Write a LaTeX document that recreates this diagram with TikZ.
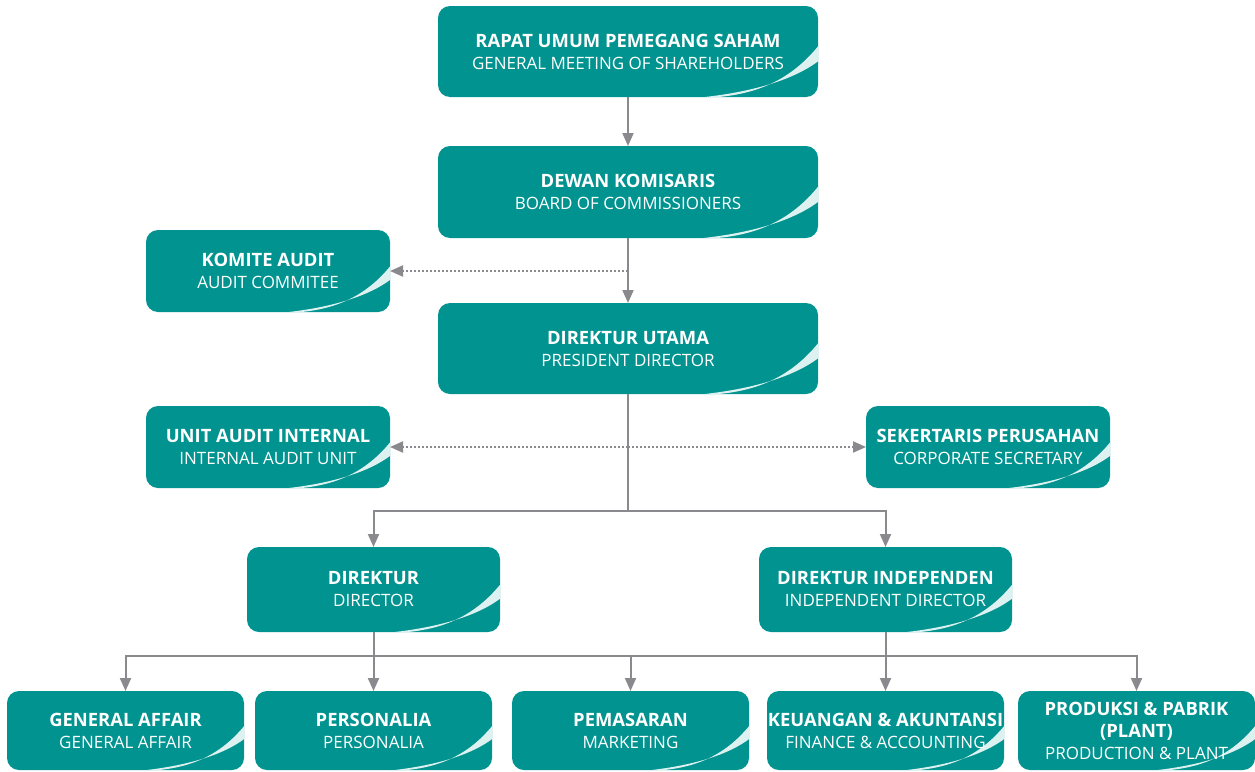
\documentclass[tikz,border=0pt]{standalone}
\usepackage{fontspec}
\setmainfont{Open Sans}
\usetikzlibrary{arrows.meta,calc}
\definecolor{teal1}{HTML}{00938F}
\definecolor{swl}{HTML}{DDF2F0}
\definecolor{conn}{HTML}{8A8A8E}
\newcommand\bl[1]{{\fontsize{18.4}{22}\selectfont\bfseries #1}}
\tikzset{
  lbl/.style={text=white, align=center, inner sep=0pt, outer sep=0pt, font=\fontsize{17}{22}\selectfont},
  line/.style={draw=conn, line width=2pt},
  arr/.style={line, -{Triangle[width=11pt,length=13pt]}},
  dotarr/.style={draw=conn, line width=2pt, dash pattern=on 1.6pt off 2.4pt, -{Triangle[width=11pt,length=13pt]}},
}
% name, x1, y1, x2, y2, text
\newcommand\obox[6]{%
  \pgfmathsetmacro\bh{#5-#3}%
  \pgfmathsetmacro\bw{#4-#2}%
  \pgfmathsetmacro\cx{(#2+#4)/2}%
  \pgfmathsetmacro\cy{(#3+#5)/2}%
  \fill[teal1, rounded corners=12pt] (#2,#3) rectangle (#4,#5);
  \begin{scope}
    \clip[rounded corners=12pt] (#2,#3) rectangle (#4,#5);
    \fill[swl] (#4+1,#3+0.43*\bh) .. controls (#4-0.35*\bh,#3+0.88*\bh) and (#4-0.8*\bh,#5+1) .. (#4-1.35*\bh,#5+1)
      .. controls (#4-0.7*\bh,#5-0.05*\bh) and (#4-0.25*\bh,#3+0.8*\bh) .. (#4+1,#3+0.6*\bh) -- cycle;
  \end{scope}
  \node[lbl, minimum width=\bw pt, minimum height=\bh pt] (#1) at (\cx,\cy) {#6};
}
\begin{document}
\begin{tikzpicture}[x=1pt,y=-1pt]
\useasboundingbox (0,0) rectangle (1255,771);
\obox{rups}{438}{6}{818}{97}{\bl{RAPAT UMUM PEMEGANG SAHAM}\\GENERAL MEETING OF SHAREHOLDERS}
\obox{dewan}{438}{146}{818}{238}{\bl{DEWAN KOMISARIS}\\BOARD OF COMMISSIONERS}
\obox{komite}{146}{230}{390}{312}{\bl{KOMITE AUDIT}\\AUDIT COMMITEE}
\obox{du}{438}{303}{818}{394}{\bl{DIREKTUR UTAMA}\\PRESIDENT DIRECTOR}
\obox{uai}{146}{406}{390}{488}{\bl{UNIT AUDIT INTERNAL}\\INTERNAL AUDIT UNIT}
\obox{sek}{866}{406}{1110}{488}{\bl{SEKERTARIS PERUSAHAN}\\CORPORATE SECRETARY}
\obox{dir}{247}{547}{500}{632}{\bl{DIREKTUR}\\DIRECTOR}
\obox{dind}{759}{547}{1012}{632}{\bl{DIREKTUR INDEPENDEN}\\INDEPENDENT DIRECTOR}
\obox{ga}{7}{691}{244}{770}{\bl{GENERAL AFFAIR}\\GENERAL AFFAIR}
\obox{pers}{255}{691}{492}{770}{\bl{PERSONALIA}\\PERSONALIA}
\obox{pem}{512}{691}{749}{770}{\bl{PEMASARAN}\\MARKETING}
\obox{keu}{767}{691}{1004}{770}{\bl{KEUANGAN \& AKUNTANSI}\\FINANCE \& ACCOUNTING}
\obox{prod}{1018}{691}{1255}{770}{\bl{PRODUKSI \& PABRIK}\\\bl{(PLANT)}\\PRODUCTION \& PLANT}
% connectors
\draw[arr] (rups.south) -- (dewan.north);
\draw[arr] (dewan.south) -- (du.north);
\draw[dotarr] (dewan.south |- komite.east) -- (komite.east);
\coordinate (h1) at (628,511);
\coordinate (h2) at (628,656);
\draw[line] (du.south) -- (h1);
\draw[dotarr] (du.south |- uai.east) -- (uai.east);
\draw[dotarr] (du.south |- sek.east) -- (sek.west);
\draw[arr] (h1) -| (dir.north);
\draw[arr] (h1) -| (dind.north);
\draw[line] (dir.south) -- (dir.south |- h2) -| (dind.south);
\draw[arr] (dir.south |- h2) -| (ga.north);
\draw[arr] (dir.south) -- (pers.north);
\draw[arr] (pem.north |- h2) -- (pem.north);
\draw[arr] (dind.south) -- (keu.north);
\draw[arr] (dind.south |- h2) -| (prod.north);
\end{tikzpicture}
\end{document}
